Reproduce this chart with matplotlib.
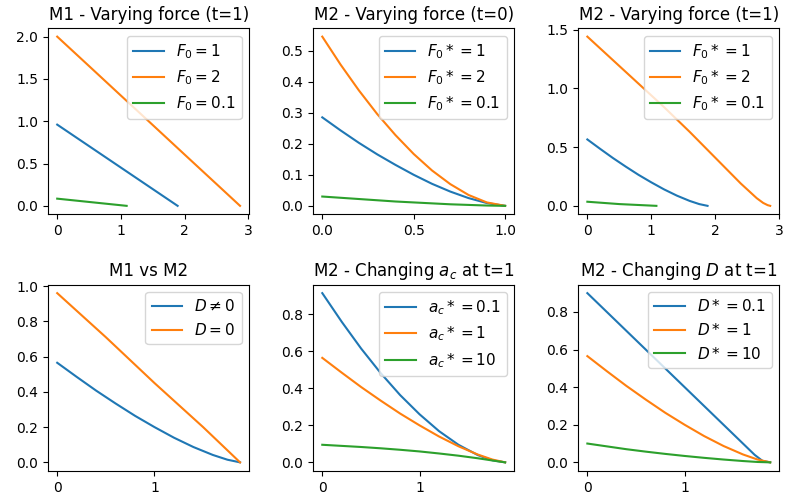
import numpy as np
import matplotlib.pyplot as plt

# M1, varying force at t=1
m1_x_f1 = [0, 0.5, 1.0, 1.5, 1.89]
m1_y_f1 = [0.96, 0.706, 0.452, 0.198, 0.0]
m1_x_f2 = [0, 0.5, 1.0, 1.5, 2.0, 2.5, 2.87]
m1_y_f2 = [2.0, 1.652, 1.303, 0.955, 0.606, 0.258, 0.0]
m1_x_f01 = [0, 0.5, 1.09]
m1_y_f01 = [0.085, 0.046, 0.0]

# M2, varying force at t=0
m2t0_x = [0, 0.1, 0.2, 0.3, 0.4, 0.5, 0.6, 0.7, 0.8, 0.9, 1.0]
m2t0_f1 = [0.285, 0.243, 0.203, 0.166, 0.132, 0.1, 0.071, 0.046, 0.025, 0.009, 0.0]
m2t0_f2 = [0.545, 0.455, 0.372, 0.296, 0.228, 0.167, 0.114, 0.07, 0.035, 0.011, 0.0]
m2t0_f01 = [0.03, 0.026, 0.022, 0.018, 0.014, 0.011, 0.008, 0.005, 0.003, 0.001, 0.0]

# M2 base curve (F0*=1, ac*=1, D*=1) at t=1
m2_x = [0, 0.2, 0.4, 0.6, 0.8, 1.0, 1.2, 1.4, 1.6, 1.75, 1.88]
m2_base = [0.565, 0.485, 0.407, 0.334, 0.264, 0.2, 0.14, 0.087, 0.042, 0.015, 0.0]

# M2, varying force at t=1
m2_x_f2 = [0, 0.4, 0.8, 1.2, 1.6, 2.0, 2.2, 2.4, 2.5, 2.65, 2.75, 2.82, 2.86]
m2_y_f2 = [1.44, 1.24, 1.04, 0.84, 0.63, 0.41, 0.3, 0.19, 0.14, 0.065, 0.025, 0.006, 0.0]
m2_x_f01 = [0, 0.5, 1.08]
m2_y_f01 = [0.035, 0.015, 0.0]

# M1 vs M2
d0_x = [0, 0.5, 1.0, 1.5, 1.88]
d0_y = [0.96, 0.71, 0.45, 0.2, 0.0]

# M2, changing a_c at t=1
ac01 = [0.915, 0.76, 0.615, 0.483, 0.364, 0.26, 0.169, 0.095, 0.039, 0.011, 0.0]
ac10 = [0.095, 0.089, 0.083, 0.076, 0.068, 0.059, 0.048, 0.036, 0.022, 0.01, 0.0]

# M2, changing D at t=1
d01_x = [0, 0.4, 0.8, 1.2, 1.6, 1.72, 1.8, 1.88]
d01 = [0.9, 0.7, 0.5, 0.3, 0.1, 0.04, 0.008, 0.0]
d10 = [0.1, 0.085, 0.07, 0.057, 0.045, 0.034, 0.024, 0.015, 0.007, 0.002, 0.0]

LEG = 11

fig, axs = plt.subplots(2, 3, figsize=(7.88, 5.03), dpi=100)

ax = axs[0, 0]
ax.plot(m1_x_f1, m1_y_f1, label=r'$F_0 = 1$')
ax.plot(m1_x_f2, m1_y_f2, label=r'$F_0 = 2$')
ax.plot(m1_x_f01, m1_y_f01, label=r'$F_0 = 0.1$')
ax.set_title('M1 - Varying force (t=1)')
ax.legend(fontsize=LEG)

ax = axs[0, 1]
ax.plot(m2t0_x, m2t0_f1, label=r'$F_0* = 1$')
ax.plot(m2t0_x, m2t0_f2, label=r'$F_0* = 2$')
ax.plot(m2t0_x, m2t0_f01, label=r'$F_0* = 0.1$')
ax.set_title('M2 - Varying force (t=0)')
ax.legend(fontsize=LEG)

ax = axs[0, 2]
ax.plot(m2_x, m2_base, label=r'$F_0* = 1$')
ax.plot(m2_x_f2, m2_y_f2, label=r'$F_0* = 2$')
ax.plot(m2_x_f01, m2_y_f01, label=r'$F_0* = 0.1$')
ax.set_title('M2 - Varying force (t=1)')
ax.legend(fontsize=LEG)

ax = axs[1, 0]
ax.plot(m2_x, m2_base, label=r'$D \neq 0$')
ax.plot(d0_x, d0_y, label=r'$D = 0$')
ax.set_title('M1 vs M2')
ax.legend(fontsize=LEG)

ax = axs[1, 1]
ax.plot(m2_x, ac01, label=r'$a_c* = 0.1$')
ax.plot(m2_x, m2_base, label=r'$a_c* = 1$')
ax.plot(m2_x, ac10, label=r'$a_c* = 10$')
ax.set_title(r'M2 - Changing $a_c$ at t=1')
ax.legend(fontsize=LEG)

ax = axs[1, 2]
ax.plot(d01_x, d01, label=r'$D* = 0.1$')
ax.plot(m2_x, m2_base, label=r'$D* = 1$')
ax.plot(m2_x, d10, label=r'$D* = 10$')
ax.set_title(r'M2 - Changing $D$ at t=1')
ax.legend(fontsize=LEG)

plt.subplots_adjust(left=0.061, right=0.989, top=0.944, bottom=0.064,
                    wspace=0.318, hspace=0.378)
plt.savefig('out.png', dpi=100)
